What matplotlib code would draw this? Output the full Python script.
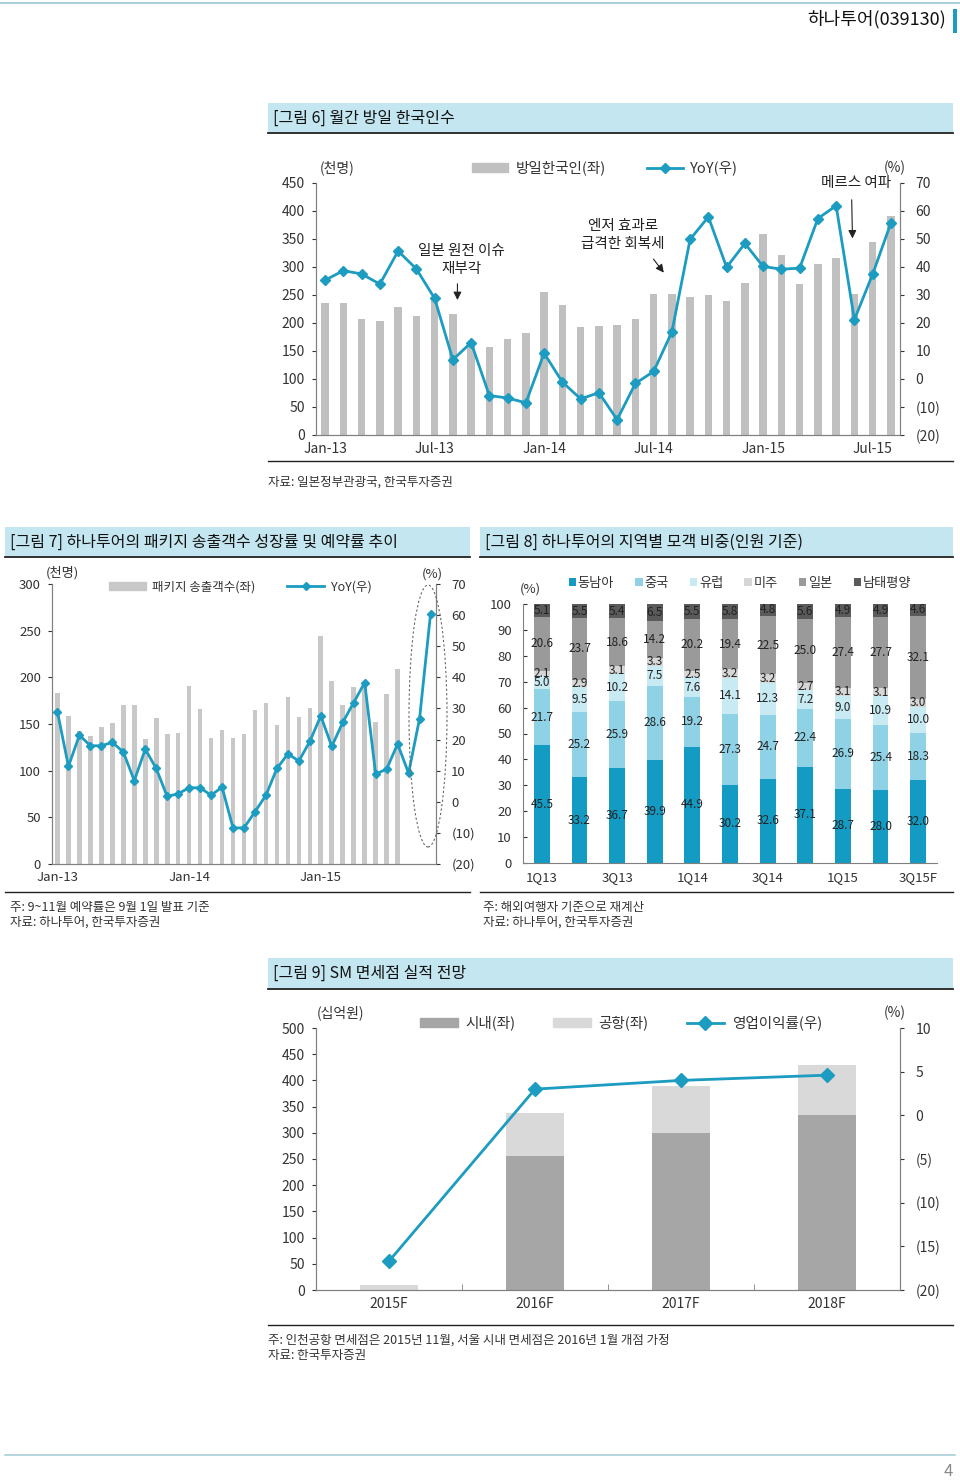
import matplotlib
matplotlib.use('Agg')
import matplotlib.pyplot as plt
import numpy as np
from matplotlib.patches import Rectangle, Patch, Ellipse
from matplotlib.lines import Line2D
from matplotlib.ticker import FuncFormatter

plt.rcParams['font.family'] = ['Noto Sans CJK KR', 'DejaVu Sans']

# [그림 6] 월간 방일 한국인수 (Jan-13 ~ Aug-15)
ticks6 = ['Jan-13', 'Jul-13', 'Jan-14', 'Jul-14', 'Jan-15', 'Jul-15']
visitors6 = [235, 235, 207, 204, 229, 212, 247, 216, 165, 158, 171, 183,
             256, 232, 192, 195, 196, 208, 251, 252, 247, 250, 240, 271,
             359, 322, 269, 305, 316, 252, 344, 391]
yoy6 = [35.3, 38.7, 37.5, 33.9, 45.7, 39.3, 28.8, 6.9, 13.0, -5.9, -6.8, -8.5,
        9.2, -1.1, -7.1, -4.9, -14.5, -1.6, 2.7, 16.8, 49.9, 57.9, 39.9, 48.4,
        40.2, 39.2, 39.6, 57.3, 61.9, 21.2, 37.4, 55.7]

# [그림 7] 패키지 송출객수 (Jan-13 ~ Aug-15), YoY (~ Nov-15)
ticks7 = ['Jan-13', 'Jan-14', 'Jan-15']
pkg7 = [183, 159, 142, 137, 147, 151, 170, 170, 134, 156, 139, 140,
        191, 166, 135, 144, 135, 139, 165, 173, 149, 179, 157, 167,
        244, 196, 170, 190, 190, 152, 182, 209]
yoy7 = [28.8, 11.4, 21.4, 18.0, 18.0, 19.1, 16.0, 6.8, 16.9, 10.7, 1.7, 2.6,
        4.5, 4.5, 2.1, 4.7, -8.4, -8.4, -3.2, 2.1, 10.7, 15.4, 13.1, 19.4,
        27.6, 17.8, 25.5, 31.9, 38.3, 8.9, 10.5, 18.6, 9.2, 26.7, 60.3]

# [그림 8] 지역별 모객 비중
quarters8 = ['1Q13', '2Q13', '3Q13', '4Q13', '1Q14', '2Q14', '3Q14', '4Q14', '1Q15', '2Q15', '3Q15F']
regions8 = ['동남아', '중국', '유럽', '미주', '일본', '남태평양']
sea8 = [45.5, 33.2, 36.7, 39.9, 44.9, 30.2, 32.6, 37.1, 28.7, 28.0, 32.0]
china8 = [21.7, 25.2, 25.9, 28.6, 19.2, 27.3, 24.7, 22.4, 26.9, 25.4, 18.3]
europe8 = [5.0, 9.5, 10.2, 7.5, 7.6, 14.1, 12.3, 7.2, 9.0, 10.9, 10.0]
america8 = [2.1, 2.9, 3.1, 3.3, 2.5, 3.2, 3.2, 2.7, 3.1, 3.1, 3.0]
japan8 = [20.6, 23.7, 18.6, 14.2, 20.2, 19.4, 22.5, 25.0, 27.4, 27.7, 32.1]
pacific8 = [5.1, 5.5, 5.4, 6.5, 5.5, 5.8, 4.8, 5.6, 4.9, 4.9, 4.6]

# [그림 9] SM 면세점 실적 전망
years9 = ['2015F', '2016F', '2017F', '2018F']
city9 = [0, 256, 300, 334]
airport9 = [9, 82, 90, 96]
margin9 = [-16.7, 3.0, 4.0, 4.6]

LINE = '#1b9cc0'
BAND = '#c4e6f0'
TXT = '#333333'
W, H = 960, 1481

fig = plt.figure(figsize=(9.6, 14.81), dpi=100)


def box(x0, y0, x1, y1):
    return fig.add_axes([x0 / W, 1 - y1 / H, (x1 - x0) / W, (y1 - y0) / H])


def txt(x, y, s, **kw):
    kw.setdefault('color', TXT)
    kw.setdefault('va', 'center')
    fig.text(x / W, 1 - y / H, s, **kw)


def hline(x0, x1, y, color, lw):
    fig.add_artist(Line2D([x0 / W, x1 / W], [1 - y / H, 1 - y / H], color=color, lw=lw))


def band(x0, y0, x1, y1, title):
    fig.add_artist(Rectangle((x0 / W, 1 - y1 / H), (x1 - x0) / W, (y1 - y0) / H,
                             facecolor=BAND, edgecolor='none'))
    hline(x0, x1, y1, '#222222', 1.3)
    txt(x0 + 5, (y0 + y1) / 2, title, fontsize=11.5, color='#111111')


paren = FuncFormatter(lambda v, p: '(%d)' % abs(v) if v < 0 else '%d' % v)


def style(ax, r, fs):
    ax.spines['top'].set_visible(False)
    r.spines['top'].set_visible(False)
    for a in (ax, r):
        for s in a.spines.values():
            s.set_color('#808080')
    ax.tick_params(axis='y', labelsize=fs, colors=TXT, length=3, pad=5)
    ax.tick_params(axis='x', labelsize=fs, colors=TXT, length=0, pad=5)
    r.tick_params(axis='y', labelsize=fs, colors=TXT, length=3, pad=8)


# ---- header ----
hline(0, 960, 3, '#a9cfd9', 1.5)
txt(946, 19, '하나투어(039130)', fontsize=13, ha='right', color='#111111')
fig.add_artist(Rectangle((953 / W, 1 - 33 / H), 4 / W, 24 / H, facecolor='#1b9cc0', edgecolor='none'))

# ---- 그림 6 ----
band(268, 103, 953, 133, '[그림 6] 월간 방일 한국인수')
ax6 = box(316, 183, 900, 435)
x6 = np.arange(len(visitors6))
ax6.bar(x6, visitors6, width=0.42, color='#c0c0c0')
ax6.set_xlim(-0.5, 31.5)
ax6.set_ylim(0, 450)
ax6.set_yticks(range(0, 451, 50))
ax6.set_xticks(range(0, 32, 6))
ax6.set_xticklabels(ticks6)
r6 = ax6.twinx()
r6.plot(x6, yoy6, color=LINE, lw=2, marker='D', ms=5)
r6.set_ylim(-20, 70)
r6.set_yticks(range(-20, 71, 10))
r6.yaxis.set_major_formatter(paren)
style(ax6, r6, 10)
ax6.legend([Patch(color='#c0c0c0'), Line2D([], [], color=LINE, lw=2, marker='D', ms=5)],
           ['방일한국인(좌)', 'YoY(우)'], ncol=2, frameon=False, fontsize=10.5,
           loc='center', bbox_to_anchor=(605 / W, 1 - 168 / H), bbox_transform=fig.transFigure,
           handlelength=2.5, handleheight=0.55, columnspacing=2.8, handletextpad=0.5,
           labelcolor=TXT)
txt(337, 168, '(천명)', fontsize=10, ha='center')
txt(895, 168, '(%)', fontsize=10, ha='center')
ax6.annotate('', xy=(7.25, 236), xytext=(7.25, 275),
             arrowprops=dict(arrowstyle='-|>', color='#222222', lw=0.8, mutation_scale=12))
ax6.text(7.45, 284, '일본 원전 이슈\n재부각', ha='center', va='bottom', fontsize=10.5,
         color='#222222', linespacing=1.4)
ax6.annotate('', xy=(18.65, 286), xytext=(17.9, 318),
             arrowprops=dict(arrowstyle='-|>', color='#222222', lw=0.8, mutation_scale=12))
ax6.text(16.3, 328, '엔저 효과로\n급격한 회복세', ha='center', va='bottom', fontsize=10.5,
         color='#222222', linespacing=1.4)
ax6.annotate('', xy=(28.9, 346), xytext=(28.85, 425),
             arrowprops=dict(arrowstyle='-|>', color='#222222', lw=0.8, mutation_scale=12))
ax6.text(29.1, 450, '메르스 여파', ha='center', va='center', fontsize=10.5, color='#222222')
hline(268, 953, 461, '#222222', 1.0)
txt(268, 482, '자료: 일본정부관광국, 한국투자증권', fontsize=9)

# ---- 그림 7 ----
band(5, 527, 470, 557, '[그림 7] 하나투어의 패키지 송출객수 성장률 및 예약률 추이')
band(480, 527, 953, 557, '[그림 8] 하나투어의 지역별 모객 비중(인원 기준)')
ax7 = box(52, 584, 436, 864)
ax7.bar(np.arange(len(pkg7)), pkg7, width=0.42, color='#c8c8c8')
ax7.set_xlim(-0.5, 34.5)
ax7.set_ylim(0, 300)
ax7.set_yticks(range(0, 301, 50))
ax7.set_xticks([0, 12, 24])
ax7.set_xticklabels(ticks7)
r7 = ax7.twinx()
r7.plot(np.arange(len(yoy7)), yoy7, color=LINE, lw=2, marker='D', ms=4.5)
r7.set_ylim(-20, 70)
r7.set_yticks(range(-20, 71, 10))
r7.yaxis.set_major_formatter(paren)
style(ax7, r7, 9.5)
ax7.legend([Patch(color='#c8c8c8'), Line2D([], [], color=LINE, lw=2, marker='D', ms=4.5)],
           ['패키지 송출객수(좌)', 'YoY(우)'], ncol=2, frameon=False, fontsize=9,
           loc='center', bbox_to_anchor=(240 / W, 1 - 587 / H), bbox_transform=fig.transFigure,
           handlelength=3.0, handleheight=0.55, columnspacing=2.5, handletextpad=0.5,
           labelcolor=TXT)
txt(62, 573, '(천명)', fontsize=9.5, ha='center')
txt(432, 574, '(%)', fontsize=9.5, ha='center')
fig.add_artist(Ellipse((428 / W, 1 - 716 / H), 38 / W, 262 / H, fill=False,
                       edgecolor='#666666', lw=0.8, ls=(0, (2, 2))))
hline(5, 470, 892, '#222222', 1.0)
txt(10, 907, '주: 9~11월 예약률은 9월 1일 발표 기준', fontsize=9)
txt(10, 922, '자료: 하나투어, 한국투자증권', fontsize=9)

# ---- 그림 8 ----
ax8 = box(523, 604, 937, 863)
colors8 = ['#139bc4', '#8fd2e5', '#c8eaf2', '#d6d6d6', '#9a9a9a', '#5a5a5a']
series8 = [sea8, china8, europe8, america8, japan8, pacific8]
x8 = np.arange(len(quarters8))
bottom = np.zeros(len(quarters8))
for name, vals, c in zip(regions8, series8, colors8):
    vals = np.array(vals)
    ax8.bar(x8, vals, bottom=bottom, width=0.42, color=c, label=name)
    for xi, b, v in zip(x8, bottom, vals):
        ax8.text(xi, b + v / 2, '%.1f' % v, ha='center', va='center', fontsize=8.5, color='#222222')
    bottom = bottom + vals
ax8.set_xlim(-0.5, 10.5)
ax8.set_ylim(0, 100)
ax8.set_yticks(range(0, 101, 10))
ax8.set_xticks(x8[::2])
ax8.set_xticklabels(quarters8[::2])
for s in ['top', 'right']:
    ax8.spines[s].set_visible(False)
for s in ax8.spines.values():
    s.set_color('#808080')
ax8.tick_params(axis='y', labelsize=9.5, colors=TXT, length=3, direction='in', pad=8)
ax8.tick_params(axis='x', labelsize=9.5, colors=TXT, length=0, pad=6)
ax8.legend(ncol=6, frameon=False, fontsize=9.5, loc='center',
           bbox_to_anchor=(740 / W, 1 - 583 / H), bbox_transform=fig.transFigure,
           handlelength=0.55, handleheight=0.55, handletextpad=0.15, columnspacing=1.6,
           labelcolor=TXT)
txt(530, 589, '(%)', fontsize=9.5, ha='center')
hline(480, 953, 892, '#222222', 1.0)
txt(483, 907, '주: 해외여행자 기준으로 재계산', fontsize=9)
txt(483, 922, '자료: 하나투어, 한국투자증권', fontsize=9)

# ---- 그림 9 ----
band(268, 958, 953, 989, '[그림 9] SM 면세점 실적 전망')
ax9 = box(316, 1028, 900, 1290)
x9 = np.arange(len(years9))
ax9.bar(x9, city9, width=0.4, color='#a6a6a6')
ax9.bar(x9, airport9, bottom=city9, width=0.4, color='#d9d9d9')
ax9.set_xlim(-0.5, 3.5)
ax9.set_ylim(0, 500)
ax9.set_yticks(range(0, 501, 50))
ax9.set_xticks(x9)
ax9.set_xticklabels(years9)
r9 = ax9.twinx()
r9.plot(x9, margin9, color=LINE, lw=2, marker='D', ms=7)
r9.set_ylim(-20, 10)
r9.set_yticks(range(-20, 11, 5))
r9.yaxis.set_major_formatter(paren)
style(ax9, r9, 10)
ax9.set_xticks([0.5, 1.5, 2.5], minor=True)
ax9.tick_params(axis='x', which='minor', direction='in', length=4, color='#808080')
ax9.legend([Patch(color='#a6a6a6'), Patch(color='#d9d9d9'),
            Line2D([], [], color=LINE, lw=2, marker='D', ms=7)],
           ['시내(좌)', '공항(좌)', '영업이익률(우)'], ncol=3, frameon=False, fontsize=10.5,
           loc='center', bbox_to_anchor=(621 / W, 1 - 1023 / H), bbox_transform=fig.transFigure,
           handlelength=2.6, handleheight=0.55, columnspacing=2.6, handletextpad=0.5,
           labelcolor=TXT)
txt(340, 1013, '(십억원)', fontsize=10, ha='center')
txt(895, 1013, '(%)', fontsize=10, ha='center')
hline(268, 953, 1325, '#222222', 1.0)
txt(268, 1340, '주: 인천공항 면세점은 2015년 11월, 서울 시내 면세점은 2016년 1월 개점 가정', fontsize=9)
txt(268, 1356, '자료: 한국투자증권', fontsize=9)

# ---- footer ----
hline(5, 955, 1455, '#a9cfd9', 1.2)
txt(948, 1472, '4', fontsize=12, ha='center', color='#888888')

fig.savefig('out.png', dpi=100)
